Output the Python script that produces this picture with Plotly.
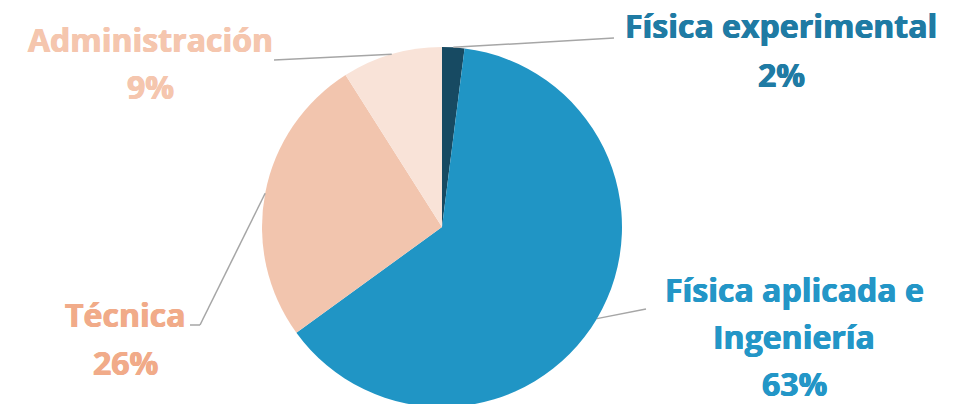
import math
import plotly.graph_objects as go

# ---- data ----
categories = ["Física experimental", "Física aplicada e Ingeniería", "Técnica", "Administración"]
label_lines = [["Física experimental"], ["Física aplicada e", "Ingeniería"], ["Técnica"], ["Administración"]]
values = [2, 63, 26, 9]
slice_colors = ["#174a62", "#2095c5", "#f2c5ae", "#f9e3d8"]
text_colors = ["#1f7ba4", "#2396c7", "#f1ab89", "#f5c6ae"]

W, H = 972, 410
CX, CY, R = 442, 227, 180  # pie placement in pixels (top-left origin)


def px(x, y):
    return x / W, 1 - y / H


fig = go.Figure(go.Pie(
    labels=categories, values=values, sort=False, direction="clockwise", rotation=0,
    marker=dict(colors=slice_colors, line=dict(width=0)),
    textinfo="none", hoverinfo="label+percent", showlegend=False,
    domain=dict(x=[(CX - R) / W, (CX + R) / W], y=[1 - (CY + R) / H, 1 - (CY - R) / H]),
))

# label layout: (text center x, first line center y, line spacing, leader path after slice edge)
label_pos = [
    (781, 25, 50, [(614, 38)]),
    (794, 289, 47, [(646, 309)]),
    (125, 314, 48, [(200, 325), (190, 325)]),
    (150, 40, 47, [(274, 60)]),
]

total = sum(values)
cum = 0
shapes = []
annotations = []
for i, v in enumerate(values):
    mid = (cum + v / 2) / total * 2 * math.pi
    cum += v
    ex = CX + R * math.sin(mid)
    ey = CY - R * math.cos(mid)
    tx, ty, gap, path = label_pos[i]
    pts = [(ex, ey)] + path
    for (x0, y0), (x1, y1) in zip(pts[:-1], pts[1:]):
        a0 = px(x0, y0)
        a1 = px(x1, y1)
        shapes.append(dict(type="line", xref="paper", yref="paper",
                           x0=a0[0], y0=a0[1], x1=a1[0], y1=a1[1],
                           line=dict(color="#a6a6a6", width=1.5)))
    lines = label_lines[i] + [f"{round(v / total * 100)}%"]
    c = text_colors[i]
    for k, t in enumerate(lines):
        p = px(tx, ty + k * gap)
        annotations.append(dict(text=t, x=p[0], y=p[1], xref="paper", yref="paper",
                                xanchor="center", yanchor="middle", showarrow=False,
                                font=dict(family="Open Sans", size=32, color=c, weight="bold",
                                          shadow=f"0.5px 0 0 {c}, -0.5px 0 0 {c}")))

fig.update_layout(
    width=W, height=H, margin=dict(l=0, r=0, t=0, b=0),
    paper_bgcolor="white", plot_bgcolor="white",
    shapes=shapes, annotations=annotations,
)
fig.write_html("out.html")
